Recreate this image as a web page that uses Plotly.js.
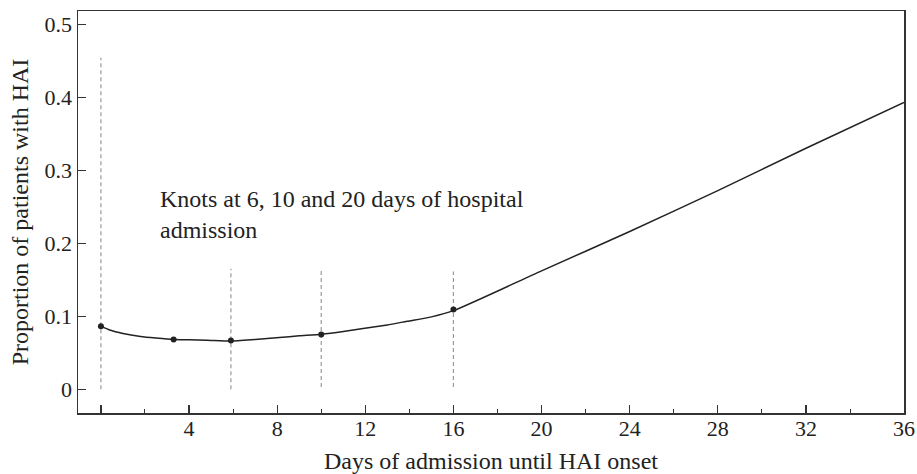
<!DOCTYPE html>
<html>
<head>
<meta charset="utf-8">
<script src="https://cdn.plot.ly/plotly-3.0.1.min.js"></script>
<style>
  html, body { margin: 0; padding: 0; background: #fff; }
  #chart { width: 917px; height: 474px; }
</style>
</head>
<body>
<div id="chart"></div>
<script>
// Fitted curve (days, proportion)
const curveX = [0, 0.4, 1.0, 1.8, 2.5, 3.3, 4.0, 4.8, 5.9, 7.0, 8.1, 9.0, 10.0, 11.0, 11.9, 13.0, 13.9, 15.0, 16.0, 20.0, 24.0, 28.0, 32.0, 36.45];
const curveY = [0.0863, 0.081, 0.0763, 0.0722, 0.070, 0.068, 0.0676, 0.0671, 0.0658, 0.068, 0.0706, 0.073, 0.0753, 0.079, 0.083, 0.088, 0.093, 0.099, 0.1075, 0.162, 0.216, 0.272, 0.330, 0.3927];
// Observed markers on curve
const pointX = [0, 3.3, 5.9, 10.0, 16.0];
const pointY = [0.0863, 0.068, 0.0667, 0.0749, 0.109];
// Knot reference lines
const knotX = [0, 5.9, 10, 16];
const knotBottom = [0, 0, 0.003, 0.003];
const knotTop = [0.454, 0.165, 0.163, 0.161];
// Axis ticks
const xMax = 36.45;
const xTickVals = [0, 4, 8, 12, 16, 20, 24, 28, 32, xMax];
const xTickText = ["", "4", "8", "12", "16", "20", "24", "28", "32", "36"];
const xMinorVals = [2, 6, 10, 14, 18, 22, 26, 30, 34];
const yTickVals = [0, 0.1, 0.2, 0.3, 0.4, 0.5];
const yTickText = ["0", "0.1", "0.2", "0.3", "0.4", "0.5"];
const noteText = "Knots at 6, 10 and 20 days of hospital<br>admission";

const FONT = "Liberation Serif";
const traces = [];
knotX.forEach((k, i) => {
  traces.push({
    x: [k, k], y: [knotBottom[i], knotTop[i]],
    mode: "lines", type: "scatter", hoverinfo: "skip",
    line: { color: "#9a9a9a", width: 1.2, dash: "4px,3px" },
    showlegend: false
  });
});
traces.push({
  x: curveX, y: curveY, mode: "lines", type: "scatter",
  line: { color: "#222", width: 1.5, shape: "spline", smoothing: 0.6 },
  showlegend: false
});
traces.push({
  x: pointX, y: pointY, mode: "markers", type: "scatter",
  marker: { color: "#222", size: 6 },
  showlegend: false
});

const layout = {
  width: 917, height: 474,
  margin: { l: 78, r: 11, t: 11, b: 61 },
  paper_bgcolor: "#fff", plot_bgcolor: "#fff",
  font: { family: FONT, color: "#222", size: 20 },
  showlegend: false,
  xaxis: {
    range: [-1.04, xMax], showgrid: false, zeroline: false,
    showline: true, mirror: true, linecolor: "#333", linewidth: 1.5,
    ticks: "inside", ticklen: 8, tickwidth: 1.2, tickcolor: "#333",
    ticklabelstandoff: -5,
    tickmode: "array", tickvals: xTickVals, ticktext: xTickText,
    tickfont: { family: FONT, size: 22, color: "#222" },
    minor: { tickmode: "array", tickvals: xMinorVals, ticks: "inside", ticklen: 4, tickwidth: 1, tickcolor: "#333", showgrid: false },
    title: { text: "Days of admission until HAI onset", font: { family: FONT, size: 24, color: "#222" } }
  },
  yaxis: {
    range: [-0.0327, 0.518], showgrid: false, zeroline: false,
    showline: true, mirror: true, linecolor: "#333", linewidth: 1.5,
    ticks: "inside", ticklen: 8, tickwidth: 1.2, tickcolor: "#333",
    tickmode: "array", tickvals: yTickVals, ticktext: yTickText,
    tickfont: { family: FONT, size: 22, color: "#222" },
    automargin: true,
    title: { text: "Proportion of patients with HAI", standoff: 9, font: { family: FONT, size: 24, color: "#222" } }
  },
  annotations: [
    { x: 2.6, y: 0.239, xref: "x", yref: "y", text: noteText, showarrow: false, align: "left",
      xanchor: "left", yanchor: "middle", font: { family: FONT, size: 24, color: "#222" } }
  ]
};

Plotly.newPlot("chart", traces, layout, { displayModeBar: false, staticPlot: true });
</script>
</body>
</html>
